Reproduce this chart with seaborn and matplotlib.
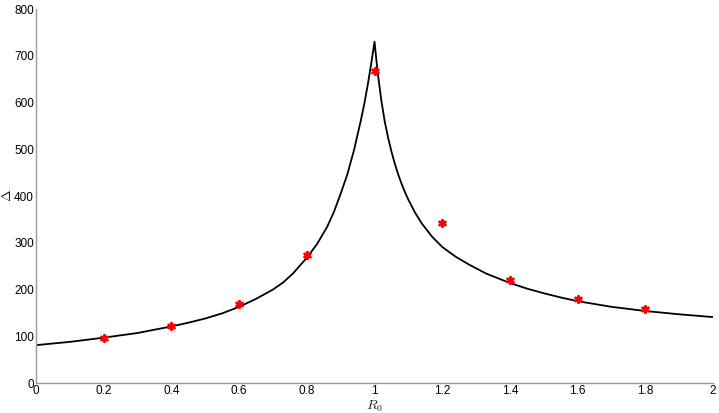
import matplotlib
matplotlib.use("Agg")
import matplotlib.pyplot as plt
import seaborn as sns
import pandas as pd

# Curve values
curve_r0 = [0.0, 0.1, 0.2, 0.3, 0.4, 0.45, 0.5, 0.55, 0.6, 0.65, 0.7, 0.73, 0.76,
            0.8, 0.83, 0.86, 0.88, 0.9, 0.92, 0.94, 0.96, 0.97, 0.98, 0.99, 1.0,
            1.005, 1.01, 1.02, 1.03, 1.04, 1.05, 1.06, 1.07, 1.08, 1.09, 1.1, 1.12,
            1.14, 1.17, 1.2, 1.24, 1.28, 1.33, 1.4, 1.45, 1.5, 1.55, 1.6, 1.7, 1.8,
            1.9, 2.0]
curve_delta = [81, 88, 97, 107, 121, 129, 138, 149, 163, 180, 200, 215, 235,
               268, 297, 334, 366, 405, 447, 500, 563, 598, 638, 682, 730,
               694, 660, 605, 560, 525, 495, 469, 446, 426, 408, 392, 364,
               341, 313, 291, 270, 253, 234, 214, 202, 192, 183, 175, 163, 154,
               147, 141]

# Marker values
pts_r0 = [0.2, 0.4, 0.6, 0.8, 1.0, 1.2, 1.4, 1.6, 1.8]
pts_delta = [97, 123, 168, 274, 667, 343, 220, 179, 159]

x_ticks = [0, 0.2, 0.4, 0.6, 0.8, 1, 1.2, 1.4, 1.6, 1.8, 2]
x_tick_labels = ["0", "0.2", "0.4", "0.6", "0.8", "1", "1.2", "1.4", "1.6", "1.8", "2"]
y_ticks = [0, 100, 200, 300, 400, 500, 600, 700, 800]

sns.set_style("white")
plt.rcParams["font.family"] = ["Liberation Sans", "DejaVu Sans"]
plt.rcParams["mathtext.fontset"] = "cm"

fig = plt.figure(figsize=(7.19, 4.13), dpi=100)
ax = fig.add_axes([0.0501, 0.0726, 0.9416, 0.9056])

curve_df = pd.DataFrame({"R0": curve_r0, "Delta": curve_delta})
pts_df = pd.DataFrame({"R0": pts_r0, "Delta": pts_delta})

sns.lineplot(data=curve_df, x="R0", y="Delta", ax=ax, color="black", linewidth=1.3,
             sort=False, estimator=None)
sns.scatterplot(data=pts_df, x="R0", y="Delta", ax=ax, color="red", marker=(6, 2, 0),
                s=22, linewidth=1.8, edgecolor="red", zorder=3)

ax.set_xlim(0, 2)
ax.set_ylim(0, 800)
ax.set_xticks(x_ticks)
ax.set_xticklabels(x_tick_labels)
ax.set_yticks(y_ticks)

for s in ["top", "right"]:
    ax.spines[s].set_visible(False)
for s in ["left", "bottom"]:
    ax.spines[s].set_color("#9a9a9a")
    ax.spines[s].set_linewidth(1.0)
ax.tick_params(direction="in", length=4, width=0.8, color="#9a9a9a",
               labelsize=8.5, labelcolor="black", pad=1.5)

ax.set_xlabel(r"$R_0$", fontsize=10)
ax.set_ylabel(r"$\Delta$", fontsize=10)
ax.xaxis.set_label_coords(0.5, -0.041)
ax.yaxis.set_label_coords(-0.033, 0.5)

fig.savefig("out.png", dpi=100)
